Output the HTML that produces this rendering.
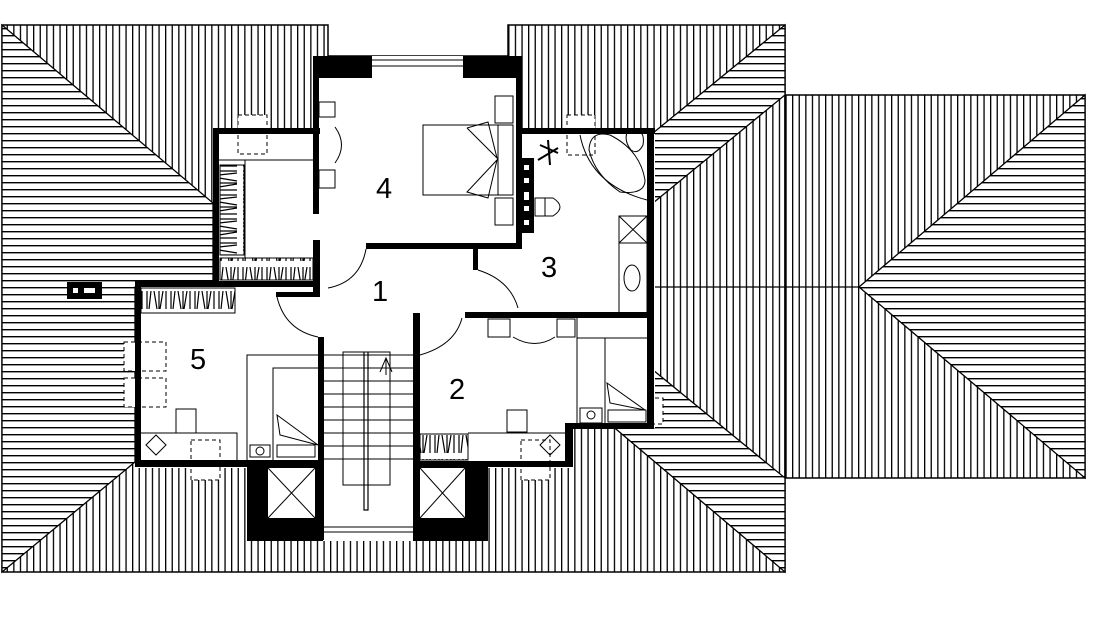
<!DOCTYPE html>
<html><head><meta charset="utf-8">
<style>html,body{margin:0;padding:0;background:#fff;}svg{display:block}</style>
</head><body>
<svg width="1110" height="624" viewBox="0 0 1110 624" xmlns="http://www.w3.org/2000/svg">
<defs>
<pattern id="v" patternUnits="userSpaceOnUse" width="6.6" height="10"><rect width="6.6" height="10" fill="#fff"/><rect x="0" y="0" width="1.3" height="10" fill="#000"/></pattern>
<pattern id="h" patternUnits="userSpaceOnUse" width="10" height="7"><rect width="10" height="7" fill="#fff"/><rect x="0" y="0" width="10" height="1.4" fill="#000"/></pattern>
<pattern id="hw" patternUnits="userSpaceOnUse" width="24" height="24"><rect width="24" height="24" fill="#fff"/><path d="M3 3v18M7 3l-2 18M10 3l3 18M15 3v18M19 3l-3 18M22 3v18" stroke="#000" stroke-width="1.2"/></pattern>
<pattern id="hwv" patternUnits="userSpaceOnUse" width="24" height="24"><rect width="24" height="24" fill="#fff"/><path d="M3 3h18M3 7l18-2M3 10l18 3M3 15h18M3 19l18-3M3 22h18" stroke="#000" stroke-width="1.2"/></pattern>
</defs>
<path d="M2 25H328V56H508V25H785V572H2Z" fill="url(#v)" stroke="#000" stroke-width="1.5"/>
<path d="M2 25L213 203V287H135V462L2 572Z" fill="url(#h)" stroke="#000" stroke-width="1.3"/>
<rect x="785" y="95" width="300" height="383" fill="url(#v)" stroke="#000" stroke-width="1.5"/>
<path d="M859 287L1085 95V478Z" fill="url(#h)" stroke="#000" stroke-width="1.3"/>
<path d="M654 287H859" stroke="#000" stroke-width="1.3"/>
<path d="M785 25L785 95L653 203L653 133Z" fill="url(#h)" stroke="#000" stroke-width="1.3"/>
<path d="M653 370L785 478V572L610 424H653Z" fill="url(#h)" stroke="#000" stroke-width="1.3"/>
<g fill="#fff">
<rect x="313" y="56" width="209" height="194"/>
<rect x="213" y="128" width="110" height="162"/>
<rect x="520" y="128" width="135" height="192"/>
<rect x="318" y="245" width="337" height="90"/>
<rect x="135" y="282" width="188" height="186"/>
<rect x="247" y="460" width="241" height="81"/>
<rect x="413" y="313" width="242" height="115"/>
<rect x="413" y="420" width="160" height="48"/>
<rect x="318" y="300" width="100" height="241"/>
</g>
<g fill="#fff" stroke="#000" stroke-width="1" stroke-dasharray="4,3">
<rect x="124" y="342" width="42" height="29"/><rect x="124" y="378" width="42" height="29"/>
<rect x="238" y="115" width="29" height="39"/>
<rect x="191" y="440" width="29" height="40"/><rect x="521" y="440" width="29" height="40"/>
<rect x="567" y="115" width="28" height="40"/>
<rect x="648" y="398" width="15" height="26"/>
</g>
<rect x="67" y="282" width="35" height="17" fill="#000"/><rect x="73" y="288" width="5" height="5" fill="#fff"/><rect x="84" y="288" width="11" height="5" fill="#fff"/>
<g fill="#000">
<rect x="313" y="56" width="59" height="22"/><rect x="463" y="56" width="59" height="22"/>
<rect x="313" y="56" width="6" height="158"/>
<rect x="516" y="56" width="6" height="193"/>
<rect x="366" y="243" width="156" height="6"/>
<rect x="473" y="243" width="5" height="27"/>
<rect x="520" y="128" width="135" height="6"/>
<rect x="647" y="128" width="7" height="300"/>
<rect x="465" y="312" width="189" height="6"/>
<rect x="213" y="128" width="107" height="6"/>
<rect x="213" y="128" width="6" height="159"/>
<rect x="135" y="281" width="185" height="6"/>
<rect x="313" y="240" width="7" height="55"/>
<rect x="276" y="292" width="44" height="5"/>
<rect x="135" y="281" width="6" height="186"/>
<rect x="135" y="460" width="188" height="7"/>
<rect x="318" y="337" width="6" height="203"/>
<rect x="413" y="313" width="7" height="227"/>
<rect x="413" y="461" width="158" height="6"/>
<rect x="565" y="423" width="8" height="44"/>
<rect x="565" y="423" width="89" height="6"/>
<rect x="247" y="462" width="76" height="79"/><rect x="413" y="462" width="75" height="79"/>
<rect x="520" y="158" width="14" height="75"/>
</g>
<g fill="#fff"><rect x="268" y="468" width="47" height="50"/><rect x="420" y="468" width="45" height="50"/>
<rect x="524" y="165" width="5" height="5"/><rect x="524" y="178" width="5" height="5"/><rect x="524" y="192" width="5" height="8"/><rect x="524" y="206" width="5" height="5"/><rect x="524" y="220" width="5" height="5"/>
</g>
<g stroke="#000" stroke-width="1" fill="none">
<path d="M268 468L315 518M315 468L268 518M420 468L465 518M465 468L420 518"/>
<path d="M372 60H463M372 66H463"/>
<path d="M323 355H413M323 368H413M323 381H413M323 394H413M323 407H413M323 420H413M323 433H413M323 446H413M323 459H413"/>
<rect x="343" y="352" width="47" height="133"/>
<path d="M364 352V510h4V352" stroke-width="1.2"/>
<path d="M323 527H413M323 532H413"/>
<path d="M380 372L386 358L392 372M386 358V375"/>
<rect x="423" y="125" width="90" height="70"/><path d="M498 125V195"/>
<path d="M467 128L488 122L497 158L467 128M467 192L488 198L497 160Z"/>
<rect x="495" y="96" width="18" height="27"/><rect x="495" y="198" width="18" height="27"/>
<rect x="319" y="102" width="16" height="15"/><rect x="319" y="170" width="16" height="18"/>
<path d="M335 127Q348 145 335 163"/>
<path d="M219 160H313M245 160V258"/>
<rect x="220" y="165" width="24" height="90" fill="url(#hwv)"/>
<rect x="220" y="258" width="93" height="22" fill="url(#hw)"/>
<rect x="141" y="288" width="94" height="25" fill="url(#hw)"/>
<rect x="420" y="434" width="48" height="26" fill="url(#hw)"/>
<path d="M328 288Q360 282 366 249"/>
<path d="M277 297Q285 330 318 337"/>
<path d="M478 270Q510 280 518 308"/>
<path d="M420 355Q455 345 462 318"/>
<path d="M247 460V355H318M273 460V368H318"/>
<path d="M277 415L318 445L280 435Z"/>
<rect x="277" y="445" width="38" height="12"/><rect x="250" y="445" width="20" height="12"/>
<circle cx="260" cy="451" r="4"/>
<path d="M141 433H237V460"/>
<rect x="176" y="409" width="20" height="24"/>
<path d="M146 445l10-10l10 10l-10 10z"/>
<path d="M468 433H565"/>
<rect x="507" y="410" width="20" height="22"/>
<path d="M540 445l10-10l10 10l-10 10z"/>
<rect x="488" y="319" width="22" height="18"/><rect x="557" y="319" width="18" height="18"/>
<path d="M513 337Q535 350 555 337"/>
<path d="M577 318V425M577 338H647M605 338V425"/>
<path d="M607 383L645 410L610 403Z"/>
<rect x="608" y="410" width="38" height="12"/><rect x="580" y="408" width="22" height="15"/>
<circle cx="591" cy="415" r="4"/>
<path d="M589 150Q590 130 610 135Q640 150 645 180Q645 195 620 192Q595 175 589 150Z"/>
<path d="M580 135Q590 185 647 200"/>
<path d="M628 130q18 -3 15 15q-5 10 -12 5q-8 -10 -3 -20z"/>
<rect x="619" y="216" width="28" height="99"/>
<path d="M619 243H647M619 216L647 243M647 216L619 243"/>
<ellipse cx="632" cy="278" rx="8" ry="13"/>
<rect x="535" y="198" width="10" height="18"/>
<path d="M545 198h8q14 9 0 18h-8z"/>
<path d="M540 145l18 8M548 140l2 25M538 160l20 -12" stroke-width="2"/>
</g>
<g font-family="Liberation Sans, sans-serif" font-size="29" fill="#000">
<text x="376" y="198">4</text>
<text x="372" y="301">1</text>
<text x="541" y="277">3</text>
<text x="190" y="369">5</text>
<text x="449" y="399">2</text>
</g>
</svg>
</body></html>
